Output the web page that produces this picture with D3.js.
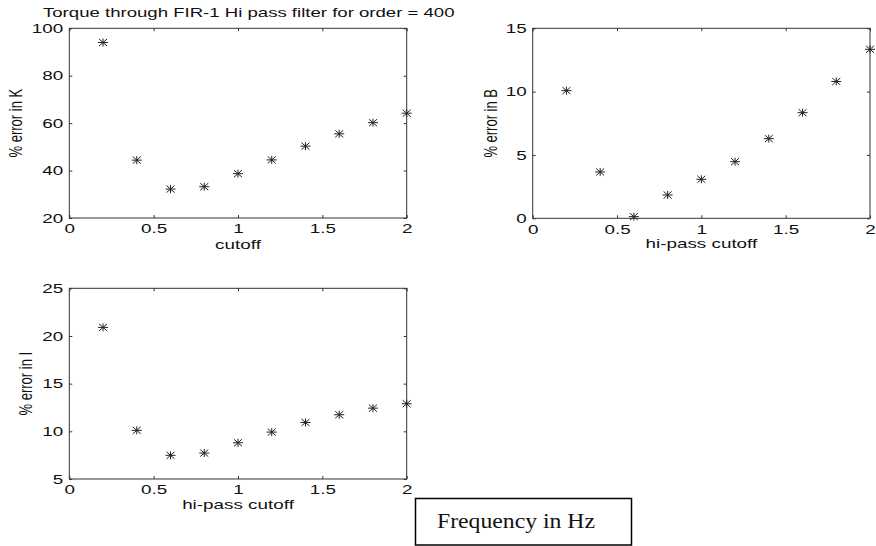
<!DOCTYPE html>
<html>
<head>
<style>
html, body { margin: 0; padding: 0; background: #fff; }
svg { display: block; }
text { font-family: "Liberation Sans", Arial, sans-serif; font-size: 13px; fill: #111; }
</style>
</head>
<body>
<svg width="876" height="546"></svg>
<script src="https://cdnjs.cloudflare.com/ajax/libs/d3/7.8.5/d3.min.js"></script>
<script>
// data
let cutoff = [0.2, 0.4, 0.6, 0.8, 1.0, 1.2, 1.4, 1.6, 1.8, 2.0];
let errK = [94, 44.4, 32.2, 33.2, 38.7, 44.5, 50.3, 55.5, 60.2, 64.2];
let errB = [10.08, 3.66, 0.13, 1.84, 3.08, 4.47, 6.29, 8.34, 10.8, 13.34];
let errI = [20.9, 10.1, 7.48, 7.72, 8.8, 9.92, 10.93, 11.74, 12.43, 12.89];

let xTicks = [0, 0.5, 1, 1.5, 2];
let kTicks = [20, 40, 60, 80, 100];
let bTicks = [0, 5, 10, 15];
let iTicks = [5, 10, 15, 20, 25];

let titleText = "Torque through FIR-1 Hi pass filter for order = 400";
let noteText = "Frequency in Hz";

let sx = 1.45; // the figure was stretched sideways
let svg = d3.select("svg");

let panels = [
    {left: 69.3, right: 406.7, top: 28.3, bottom: 218, ys: errK, yDom: [20, 100], yTicks: kTicks,
     ylab: "% error in K", ylabX: 21.5, xlab: "cutoff", xlabY: 249},
    {left: 532.7, right: 870, top: 28.3, bottom: 218.3, ys: errB, yDom: [0, 15], yTicks: bTicks,
     ylab: "% error in B", ylabX: 497, xlab: "hi-pass cutoff", xlabY: 248},
    {left: 69.3, right: 406.7, top: 288.3, bottom: 479, ys: errI, yDom: [5, 25], yTicks: iTicks,
     ylab: "% error in I", ylabX: 31.5, xlab: "hi-pass cutoff", xlabY: 509}
];

function star(g, x, y) {
    let p = d3.path();
    p.moveTo(x - 5, y); p.lineTo(x + 5, y);
    p.moveTo(x, y - 4); p.lineTo(x, y + 4);
    p.moveTo(x - 4, y - 3.5); p.lineTo(x + 4, y + 3.5);
    p.moveTo(x - 4, y + 3.5); p.lineTo(x + 4, y - 3.5);
    g.append("path").attr("d", p.toString())
        .attr("stroke", "#222").attr("stroke-width", 1).attr("fill", "none");
}

panels.forEach(pn => {
    let x = d3.scaleLinear().domain([0, 2]).range([pn.left, pn.right]);
    let y = d3.scaleLinear().domain(pn.yDom).range([pn.bottom, pn.top]);
    let g = svg.append("g");

    // inward ticks on all sides
    let bot = g.append("g").attr("transform", "translate(0," + pn.bottom + ")")
        .call(d3.axisBottom(x).tickValues(xTicks).tickSizeInner(-3).tickSizeOuter(0).tickPadding(6)
            .tickFormat(d3.format("")));
    let top = g.append("g").attr("transform", "translate(0," + pn.top + ")")
        .call(d3.axisTop(x).tickValues(xTicks).tickSizeInner(-3).tickSizeOuter(0).tickFormat(""));
    let lef = g.append("g").attr("transform", "translate(" + pn.left + ",0)")
        .call(d3.axisLeft(y).tickValues(pn.yTicks).tickSizeInner(-3).tickSizeOuter(0).tickPadding(6));
    let rig = g.append("g").attr("transform", "translate(" + pn.right + ",0)")
        .call(d3.axisRight(y).tickValues(pn.yTicks).tickSizeInner(-3).tickSizeOuter(0).tickFormat(""));

    g.selectAll(".domain").remove();
    g.selectAll(".tick line").attr("stroke", "#333");
    g.selectAll(".tick text").attr("font-family", null).attr("font-size", null).attr("fill", "#111");
    bot.selectAll(".tick text").attr("transform", "scale(" + sx + ",1)");
    lef.selectAll(".tick text").attr("x", -6 / sx).attr("transform", "scale(" + sx + ",1)");

    g.append("rect")
        .attr("x", pn.left).attr("y", pn.top)
        .attr("width", pn.right - pn.left).attr("height", pn.bottom - pn.top)
        .attr("fill", "none").attr("stroke", "#333").attr("stroke-width", 1);

    cutoff.forEach((c, i) => star(g, x(c), y(pn.ys[i])));

    g.append("text")
        .attr("transform", "translate(" + ((pn.left + pn.right) / 2) + "," + pn.xlabY + ") scale(" + sx + ",1)")
        .attr("text-anchor", "middle")
        .text(pn.xlab);

    g.append("text")
        .attr("transform", "translate(" + pn.ylabX + "," + ((pn.top + pn.bottom) / 2) + ") scale(" + sx + ",1) rotate(-90)")
        .attr("text-anchor", "middle")
        .text(pn.ylab);
});

svg.append("text")
    .attr("transform", "translate(43,17) scale(1.43,1)")
    .text(titleText);

svg.append("rect")
    .attr("x", 415.5).attr("y", 498.5).attr("width", 216).attr("height", 46.5)
    .attr("fill", "#fff").attr("stroke", "#000").attr("stroke-width", 1.5);
svg.append("text")
    .attr("x", 437).attr("y", 528)
    .attr("textLength", 158).attr("lengthAdjust", "spacingAndGlyphs")
    .style("font-family", "'Liberation Serif', 'Times New Roman', serif")
    .style("font-size", "21px")
    .text(noteText);
</script>
</body>
</html>
